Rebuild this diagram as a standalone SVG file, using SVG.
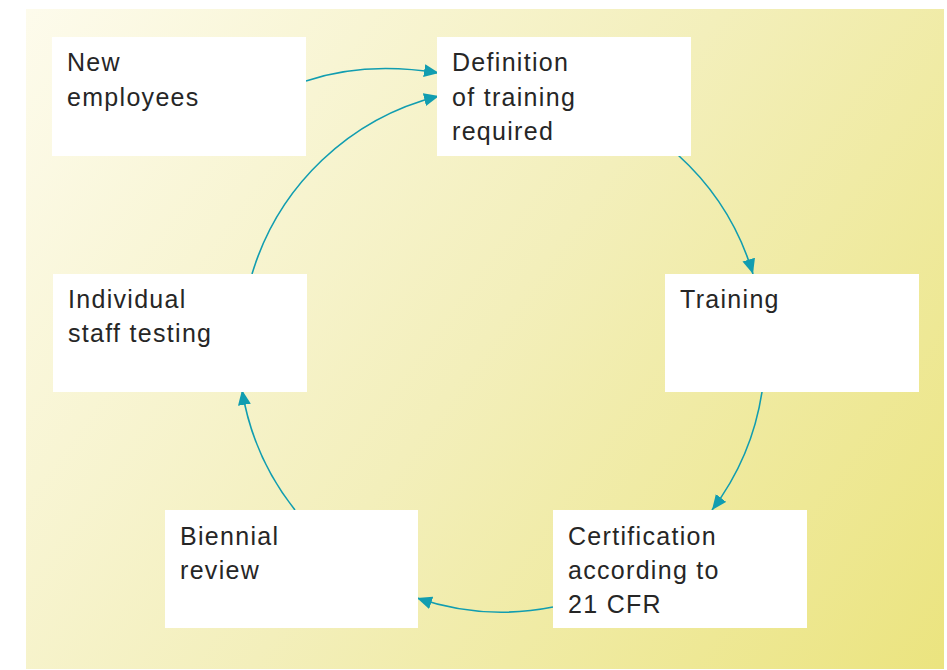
<svg xmlns="http://www.w3.org/2000/svg" width="947" height="670" viewBox="0 0 947 670">
<defs>
<linearGradient id="bg" x1="26" y1="9" x2="944" y2="669" gradientUnits="userSpaceOnUse">
<stop offset="0" stop-color="#fdfbec"/>
<stop offset="0.5" stop-color="#f3efbb"/>
<stop offset="1" stop-color="#ebe47f"/>
</linearGradient>
<marker id="ah" markerUnits="userSpaceOnUse" markerWidth="16" markerHeight="14" refX="15" refY="6.5" orient="auto">
<path d="M0,0 L15,6.5 L0,13 z" fill="#119db0"/>
</marker>
<style>
.box{fill:#ffffff}
.lbl{font-family:"Liberation Sans",Arial,sans-serif;font-size:25px;letter-spacing:1.3px;fill:#262626}
.con{fill:none;stroke:#119db0;stroke-width:1.6;marker-end:url(#ah)}
</style>
</defs>
<rect x="26" y="9" width="918" height="660" fill="url(#bg)"/>
<g id="connectors">
<path class="con" d="M306,81 Q365,61 439,73"/>
<path class="con" d="M252,274 A261,261 0 0 1 439,96"/>
<path class="con" d="M678,155 A261,261 0 0 1 753,274"/>
<path class="con" d="M762,392 A261,261 0 0 1 712,510"/>
<path class="con" d="M553,607 A261,261 0 0 1 417,598"/>
<path class="con" d="M295,510 A261,261 0 0 1 242,390"/>
</g>
<g id="node-new">
<rect class="box" x="52" y="37" width="254" height="119"/>
<text class="lbl" x="67" y="71">New</text>
<text class="lbl" x="67" y="106">employees</text>
</g>
<g id="node-definition">
<rect class="box" x="437" y="37" width="254" height="119"/>
<text class="lbl" x="452" y="71">Definition</text>
<text class="lbl" x="452" y="106">of training</text>
<text class="lbl" x="452" y="140">required</text>
</g>
<g id="node-training">
<rect class="box" x="665" y="274" width="254" height="118"/>
<text class="lbl" x="680" y="308">Training</text>
</g>
<g id="node-certification">
<rect class="box" x="553" y="510" width="254" height="118"/>
<text class="lbl" x="568" y="545">Certification</text>
<text class="lbl" x="568" y="579">according to</text>
<text class="lbl" x="568" y="613">21 CFR</text>
</g>
<g id="node-biennial">
<rect class="box" x="165" y="510" width="253" height="118"/>
<text class="lbl" x="180" y="545">Biennial</text>
<text class="lbl" x="180" y="579">review</text>
</g>
<g id="node-individual">
<rect class="box" x="53" y="274" width="254" height="118"/>
<text class="lbl" x="68" y="308">Individual</text>
<text class="lbl" x="68" y="342">staff testing</text>
</g>
</svg>
